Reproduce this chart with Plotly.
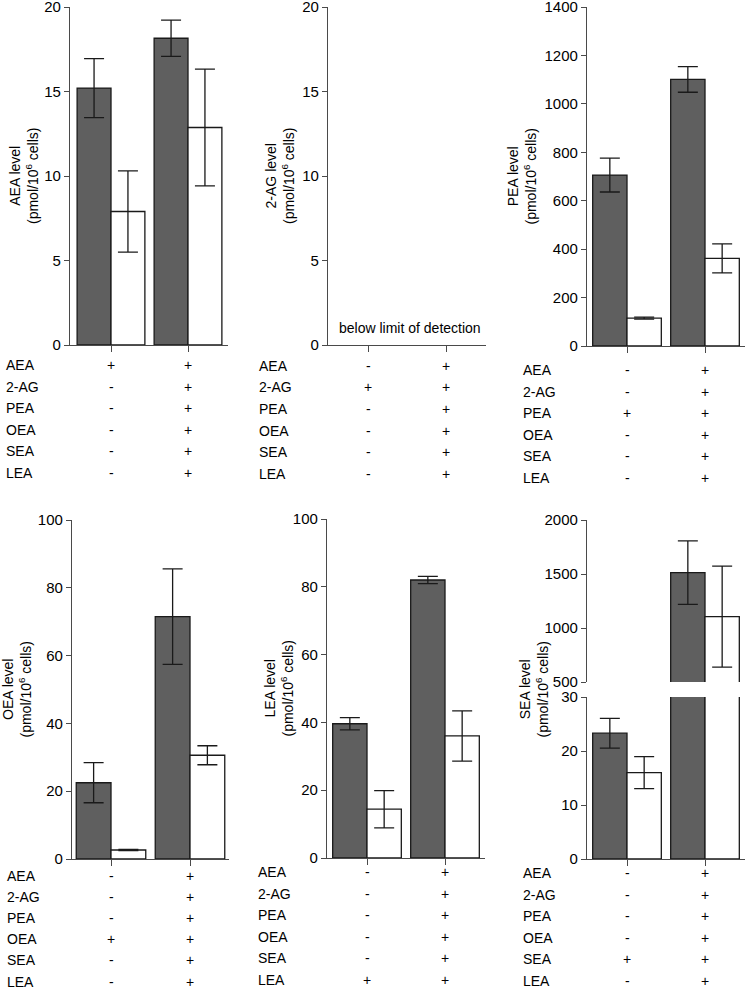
import plotly.graph_objects as go

# Data
rows = ["AEA", "2-AG", "PEA", "OEA", "SEA", "LEA"]
groups = [1, 2]

aea_dark = [15.2, 18.15]
aea_dark_err = [1.75, 1.07]
aea_white = [7.9, 12.87]
aea_white_err = [2.4, 3.45]

pea_dark = [706, 1101]
pea_dark_err = [70, 53]
pea_white = [115, 362]
pea_white_err = [4, 60]

oea_dark = [22.5, 71.5]
oea_dark_err = [5.9, 14.1]
oea_white = [2.65, 30.6]
oea_white_err = [0.2, 2.8]

lea_dark = [39.6, 82.0]
lea_dark_err = [1.8, 1.05]
lea_white = [14.4, 36.0]
lea_white_err = [5.5, 7.4]

sea_dark = [23.3, 1512]
sea_dark_err = [2.75, 294]
sea_white = [16.0, 1105]
sea_white_err = [2.95, 468]

W, H = 745, 989
BAR_W = 0.44
DARK = "#5f5f5f"
EDGE = "#1a1a1a"
AXC = "#4a4a4a"
TXT = "#000000"
FONT = "Liberation Sans, Arial, sans-serif"


def px(v):
    return v / W


def py(v):
    return 1 - v / H


def xrange_from(left, right, t1, t2):
    u = t2 - t1
    return [1 - (t1 - left) / u, 2 + (right - t2) / u]


# panel layout: (axis id, left, right, tick1, tick2, top, bottom, yrange, dtick, compound,
#                title x, label x, first row y, row step)
panels = [
    (1, 70, 228, 111, 188, 7, 345, [0, 20], 5, "AEA", 24, 4, 365, 21.6),
    (2, 328, 486, 368, 446, 7, 345, [0, 20], 5, "2-AG", 280, 257, 366, 21.5),
    (3, 587, 745, 627, 705, 7, 346, [0, 1400], 200, "PEA", 522, 521, 370, 21.6),
    (4, 72, 229, 111, 190, 520, 859, [0, 100], 20, "OEA", 16, 5, 876, 21.1),
    (5, 327, 485, 367, 445, 519, 858, [0, 100], 20, "LEA", 278, 256, 872, 21.5),
    (6, 587, 745, 627, 705, 697, 859, [0, 30], 10, "SEA", 533, 521, 873, 21.6),
]

series = {
    1: (aea_dark, aea_dark_err, aea_white, aea_white_err),
    3: (pea_dark, pea_dark_err, pea_white, pea_white_err),
    4: (oea_dark, oea_dark_err, oea_white, oea_white_err),
    5: (lea_dark, lea_dark_err, lea_white, lea_white_err),
    6: (sea_dark, sea_dark_err, sea_white, sea_white_err),
    7: (sea_dark, sea_dark_err, sea_white, sea_white_err),
}

fig = go.Figure()
layout = {}
annotations = []

axis_common = dict(showgrid=False, zeroline=False, showline=True, linecolor=AXC,
                   linewidth=1.3, ticks="outside", tickcolor=AXC, tickwidth=1.3,
                   fixedrange=True, automargin=False, ticklabeloverflow="allow")
tickfont = dict(size=15, color=TXT, family=FONT)
tabfont = dict(size=14, color=TXT, family=FONT)

for (k, left, right, t1, t2, top, bottom, yr, dt, comp, tx, lx, ry0, step) in panels:
    xr = xrange_from(left, right, t1, t2)
    layout[f"xaxis{k}"] = dict(axis_common, domain=[px(left), px(right)], range=xr,
                               tickvals=groups, showticklabels=False, ticklen=6,
                               anchor=f"y{k}")
    layout[f"yaxis{k}"] = dict(axis_common, domain=[py(bottom), py(top)], range=yr,
                               dtick=dt, ticklen=5, anchor=f"x{k}", tickfont=tickfont)
    # y title
    ytop = 520 if k == 6 else top
    ymid = (ytop + bottom) / 2
    annotations.append(dict(text=f"{comp} level<br>(pmol/10<sup>6</sup> cells)",
                            xref="paper", yref="paper", x=px(tx), y=py(ymid),
                            xanchor="center", yanchor="middle",
                            textangle=-90, showarrow=False,
                            font=dict(size=14, color=TXT, family=FONT)))
    # treatment table
    for i, r in enumerate(rows):
        yy = py(ry0 + i * step)
        annotations.append(dict(text=r, xref="paper", yref="paper", x=px(lx), y=yy,
                                xanchor="left", yanchor="middle", showarrow=False,
                                font=tabfont))
        signs = ["+" if r == comp else "-", "+"]
        for g, s in zip(groups, signs):
            annotations.append(dict(text=s, xref=f"x{k}", yref="paper", x=g, y=yy,
                                    xanchor="center", yanchor="middle", showarrow=False,
                                    font=tabfont))

# upper segment of the broken SEA axis
xr6 = xrange_from(587, 745, 627, 705)
layout["xaxis7"] = dict(domain=[px(587), px(745)], range=xr6, visible=False,
                        anchor="y7", fixedrange=True, automargin=False)
layout["yaxis7"] = dict(axis_common, domain=[py(682), py(520)], range=[500, 2000],
                        dtick=500, ticklen=5, anchor="x7", tickfont=tickfont)

for k, (d, de, w, we) in series.items():
    xd = [g - BAR_W / 2 for g in groups]
    xw = [g + BAR_W / 2 for g in groups]
    fig.add_trace(go.Bar(x=xd, y=d, width=BAR_W, xaxis=f"x{k}", yaxis=f"y{k}",
                         marker=dict(color=DARK, line=dict(color=EDGE, width=1.3)),
                         error_y=dict(type="data", array=de, color=EDGE,
                                      thickness=1.3, width=10),
                         showlegend=False, hoverinfo="skip"))
    fig.add_trace(go.Bar(x=xw, y=w, width=BAR_W, xaxis=f"x{k}", yaxis=f"y{k}",
                         marker=dict(color="white", line=dict(color=EDGE, width=1.3)),
                         error_y=dict(type="data", array=we, color=EDGE,
                                      thickness=1.3, width=10),
                         showlegend=False, hoverinfo="skip"))

# empty 2-AG panel needs a trace to show its axes
fig.add_trace(go.Bar(x=[], y=[], xaxis="x2", yaxis="y2", showlegend=False))

annotations.append(dict(text="below limit of detection", xref="paper", yref="paper",
                        x=px(410), y=py(328), showarrow=False, xanchor="center",
                        yanchor="middle", font=tabfont))

fig.update_layout(**layout)
fig.update_layout(width=W, height=H, margin=dict(l=0, r=0, t=0, b=0, autoexpand=False),
                  barmode="overlay", plot_bgcolor="white", paper_bgcolor="white",
                  annotations=annotations, showlegend=False,
                  font=dict(family=FONT, color=TXT))

page_css = ("document.documentElement.style.margin='0';"
            "document.body.style.margin='0';"
            "document.body.style.overflow='hidden';"
            "document.documentElement.style.overflow='hidden';")
fig.write_html("out.html", config={"displayModeBar": False}, post_script=page_css)
